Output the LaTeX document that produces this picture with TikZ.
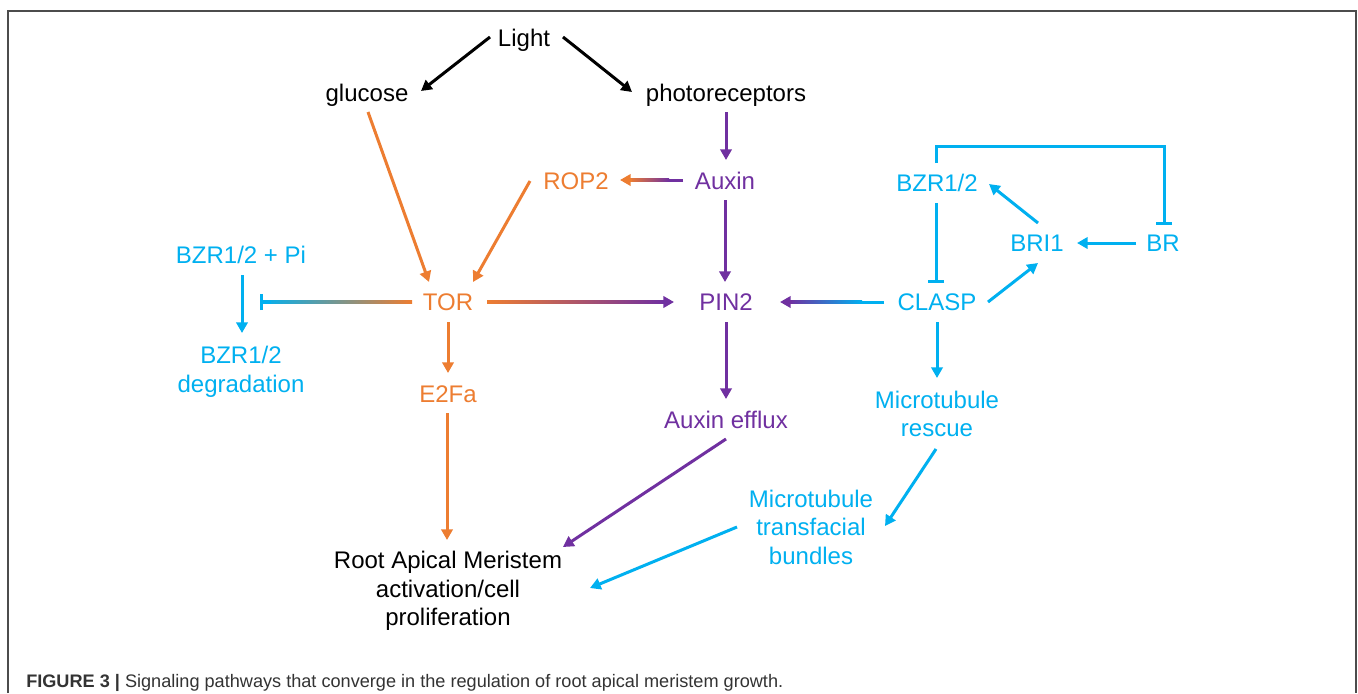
\documentclass[tikz,border=0pt]{standalone}
\usepackage{fontspec}
\setmainfont{Liberation Sans}
\usetikzlibrary{arrows.meta,calc}
\definecolor{cor}{HTML}{ED7D31}
\definecolor{cpu}{HTML}{7030A0}
\definecolor{ccy}{HTML}{00B0F0}
\definecolor{capgray}{HTML}{333333}
\begin{document}
\begin{tikzpicture}[x=0.75pt,y=-0.75pt,
  lbl/.style={inner sep=0pt, font=\fontsize{18pt}{21.4pt}\selectfont, text height=12.9pt, text depth=0pt},
  mlbl/.style={inner sep=0pt, align=center, font=\fontsize{18pt}{21.4pt}\selectfont},
  arr/.style={line width=2.25pt, -{Triangle[length=8pt,width=8.5pt]}},
  inh/.style={line width=2.25pt, -{Bar[width=12pt]}},
  plain/.style={line width=2.25pt},
  frame/.style={draw=black!70, line width=1.2pt}]
\useasboundingbox (0,0) rectangle (1358,693);
\fill[white] (0,0) rectangle (1358,693);
\draw[frame] (8,693) -- (8,11) -- (1356,11) -- (1356,693);

% nodes
\node[lbl] (light) at (524,38) {Light};
\node[lbl] (glucose) at (367,93) {glucose};
\node[lbl] (photo) at (726,93) {photoreceptors};
\node[lbl,text=cor] (rop2) at (576,181) {ROP2};
\node[lbl,text=cpu] (auxin) at (725,181) {Auxin};
\node[lbl,text=ccy] (bzrpi) at (241,255) {BZR1/2 + Pi};
\node[lbl,text=cor] (tor) at (448,302) {TOR};
\node[lbl,text=cpu] (pin2) at (726,302) {PIN2};
\node[lbl,text=ccy] (clasp) at (937,302) {CLASP};
\node[lbl,text=ccy] (bzr) at (937,183) {BZR1/2};
\node[lbl,text=ccy] (bri1) at (1037,243) {BRI1};
\node[lbl,text=ccy] (br) at (1163,243) {BR};
\node[lbl,text=cor] (e2fa) at (448,394) {E2Fa};
\node[lbl,text=cpu] (efflux) at (726,420) {Auxin efflux};
\node[mlbl,text=ccy] (bzrdeg) at (241,372) {BZR1/2\\degradation};
\node[mlbl,text=ccy] (mtr) at (937,414) {Microtubule\\rescue};
\node[mlbl,text=ccy] (mtb) at (811,527) {Microtubule\\transfacial\\bundles};
\node[mlbl] (ram) at (448,591) {Root Apical Meristem\\activation/cell\\proliferation};

\node[anchor=base west, inner sep=0pt, text=capgray, font=\fontsize{13.6pt}{16pt}\selectfont] (caption) at (26,687)
  {\textbf{FIGURE 3 |} Signaling pathways that converge in the regulation of root apical meristem growth.};

% black connectors
\draw[arr] ($(light)+(-34,-1)$) -- ($(glucose)+(54,-2)$);
\draw[arr] ($(light)+(39,-1)$) -- ($(photo)+(-94,-1)$);

% orange connectors
\draw[arr,cor] ($(glucose)+(1,19)$) -- ($(tor)+(-19,-20)$);
\draw[arr,cor] ($(rop2)+(-46,0)$) -- ($(tor)+(25,-20)$);
\draw[arr,cor] ($(tor)+(0,20)$) -- ($(e2fa)+(0,-21)$);
\draw[arr,cor] ($(e2fa)+(-1,19)$) -- ($(ram)+(-1,-51)$);

% gradient TOR -> PIN2
\shade[left color=cor, right color=cpu] ($(tor)+(39,-1.5)$) rectangle ($(pin2)+(-62,1.5)$);
\draw[arr,cpu] ($(pin2)+(-64,0)$) -- ($(pin2)+(-52,0)$);

% gradient TOR -| BZR1/2 + Pi
\shade[left color=ccy, right color=cor] ($(bzrpi)+(20,45.5)$) rectangle ($(tor)+(-36,1.5)$);
\draw[inh,ccy] ($(bzrpi)+(30,47)$) -- ($(bzrpi)+(19,47)$);

% gradient Auxin -> ROP2
\draw[plain,cpu] ($(auxin)+(-42,-1)$) -- ($(auxin)+(-57,-1)$);
\shade[left color=cor, right color=cpu] ($(rop2)+(53,-2.5)$) rectangle ($(auxin)+(-56,0.5)$);
\draw[arr,cor] ($(rop2)+(56,-1)$) -- ($(rop2)+(44,-1)$);

% gradient CLASP -> PIN2
\draw[plain,ccy] ($(clasp)+(-53,0)$) -- ($(clasp)+(-76,0)$);
\shade[left color=cpu, right color=ccy] ($(pin2)+(63,-1.5)$) rectangle ($(clasp)+(-75,1.5)$);
\draw[arr,cpu] ($(pin2)+(66,0)$) -- ($(pin2)+(54,0)$);

% purple connectors
\draw[arr,cpu] ($(photo)+(0,19)$) -- ($(auxin)+(1,-21)$);
\draw[arr,cpu] ($(auxin)+(0,19)$) -- ($(pin2)+(-1,-20)$);
\draw[arr,cpu] ($(pin2)+(0,20)$) -- ($(efflux)+(0,-21)$);
\draw[arr,cpu] ($(efflux)+(0,19)$) -- ($(ram)+(115,-44)$);

% cyan connectors
\draw[arr,ccy] ($(bzrpi)+(1,20)$) -- ($(bzrdeg)+(1,-39)$);
\draw[arr,ccy] ($(clasp)+(0,20)$) -- ($(mtr)+(0,-36)$);
\draw[arr,ccy] ($(mtr)+(-1,35)$) -- ($(mtb)+(74,-1)$);
\draw[arr,ccy] ($(mtb)+(-74,0)$) -- ($(ram)+(142,-3)$);
\draw[inh,ccy] ($(bzr)+(-1,20)$) -- ($(clasp)+(-1,-19)$);
\draw[arr,ccy] ($(clasp)+(51,0)$) -- ($(bri1)+(1,20)$);
\draw[arr,ccy] ($(bri1)+(1,-20)$) -- ($(bzr)+(52,1)$);
\draw[arr,ccy] ($(br)+(-27,0)$) -- ($(bri1)+(40,0)$);
\draw[inh,ccy] ($(bzr)+(-1,-20)$) |- ($(br)+(1,-97)$) -- ($(br)+(1,-18)$);
\end{tikzpicture}
\end{document}
